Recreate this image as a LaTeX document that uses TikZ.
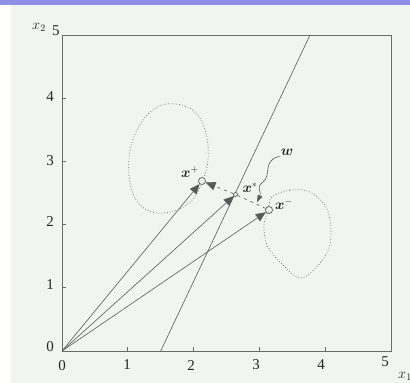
\documentclass[tikz,border=0pt]{standalone}
\usepackage{fontspec}
\setmainfont{Liberation Serif}
\usepackage{amsmath}
\usepackage{bm}
\usetikzlibrary{arrows.meta,decorations.pathmorphing}
\definecolor{paper}{HTML}{F1F4EF}
\definecolor{bar}{HTML}{8E8EE6}
\definecolor{ink}{HTML}{5A5A5A}
\tikzset{
  axisline/.style={draw=ink!90,line width=0.8pt},
  vecline/.style={draw=ink,line width=0.6pt},
  tip/.style={-{Triangle[length=10pt,width=8.5pt]}},
  blob/.style={draw=ink!80,dotted,line width=0.8pt},
  pt/.style={circle,draw=ink,fill=paper,line width=0.7pt,inner sep=0pt,minimum size=7pt},
  lab/.style={font=\fontsize{15}{17}\selectfont,text=black!85,inner sep=1pt},
  mlab/.style={font=\fontsize{14}{16}\selectfont,text=black!85,inner sep=1pt}
}
\begin{document}
\begin{tikzpicture}[x=1pt,y=-1pt]
\useasboundingbox (0,0) rectangle (410,383);
\fill[white] (0,0) rectangle (410,383);
\fill[paper] (11,5) rectangle (410,383);
\fill[bar] (0,0) rectangle (410,5);
% axes box
\draw[axisline] (62,35) rectangle (391,351);
\foreach \x in {127.8,193.6,259.4,325.2} \draw[axisline] (\x,351) -- (\x,347);
\foreach \y in {287.8,224.6,161.4,98.2} \draw[axisline] (62,\y) -- (66,\y);
% tick labels
\node[lab] (tx0) at (62,366) {0};
\node[lab] (tx1) at (127,365) {1};
\node[lab] (tx2) at (191,366) {2};
\node[lab] (tx3) at (256,365) {3};
\node[lab] (tx4) at (321,365) {4};
\node[lab] (tx5) at (385,362) {5};
\node[mlab] (xone) at (405,376) {$x_1$};
\node[lab] (ty0) at (50,347) {0};
\node[lab] (ty1) at (50,285) {1};
\node[lab] (ty2) at (50,222) {2};
\node[lab] (ty3) at (50,161) {3};
\node[lab] (ty4) at (50,97) {4};
\node[lab] (ty5) at (56,31) {5};
\node[mlab] (xtwo) at (39,27) {$x_2$};
% separating line
\coordinate (sa) at (160.7,351);
\coordinate (sb) at (310,35);
\draw[vecline] (sa) -- (sb);
% blobs
\draw[blob] plot[smooth cycle,tension=0.6] coordinates {(162,105) (185,106) (200,118) (207,138) (208,160) (203,180) (193,199) (175,211) (152,212) (136,200) (129,175) (131,146) (143,120)};
\draw[blob] plot[smooth cycle,tension=0.55] coordinates {(272,197) (290,190) (310,192) (326,207) (331,230) (326,255) (302,278) (282,264) (267,245) (264,225) (268,210)};
% points
\coordinate (o) at (62,351);
\node[pt] (xp) at (202,181) {};
\node[pt] (xm) at (269,210) {};
\node[pt,minimum size=4pt] (xs) at (235.5,194.5) {};
% vectors
\draw[vecline,tip] (o) -- (xp);
\draw[vecline,tip] (o) -- (xs);
\draw[vecline,tip] (o) -- (xm);
% dashed margin line
\draw[vecline,dashed,dash pattern=on 3pt off 4pt,tip] (xs) -- (xp);
\draw[vecline,dashed,dash pattern=on 3pt off 4pt] (xs) -- (xm);
% labels
\node[mlab] (lp) at (190,172) {$\bm{x}^{+}$};
\node[mlab] (ls) at (250,188) {$\bm{x}^{*}$};
\node[mlab] (lm) at (284,204) {$\bm{x}^{-}$};
\node[mlab] (lw) at (287,152) {$\bm{w}$};
% w squiggle
\coordinate (wend) at (257,202);
\draw[vecline,-{Triangle[length=7pt,width=5pt]}] (lw.south west) .. controls (262,160) and (272,175) .. (263,182) .. controls (255,188) and (262,192) .. (wend);
\end{tikzpicture}
\end{document}
